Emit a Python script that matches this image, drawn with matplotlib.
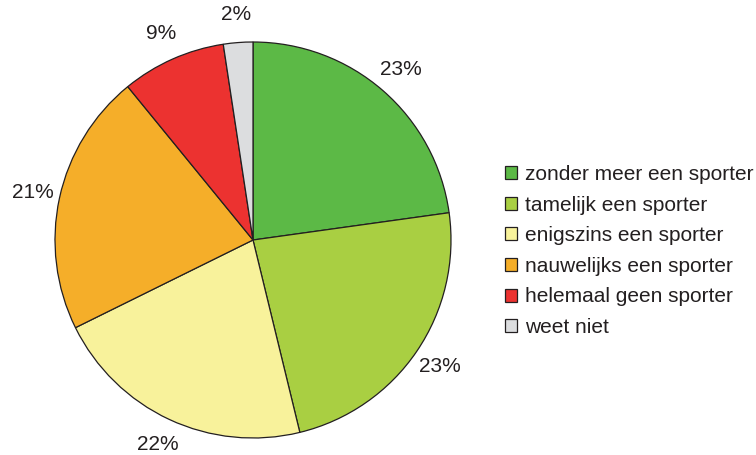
import matplotlib.pyplot as plt

plt.rcParams['font.family'] = ['Liberation Sans', 'DejaVu Sans']

categories = ["zonder meer een sporter", "tamelijk een sporter", "enigszins een sporter",
              "nauwelijks een sporter", "helemaal geen sporter", "weet niet"]
# shares; labels are the printed rounded values
values = [22.8, 23.4, 21.5, 21.4, 8.5, 2.4]
labels = ["23%", "23%", "22%", "21%", "9%", "2%"]
colors = ["#5cb946", "#a9cf42", "#f8f29b", "#f5ae29", "#ec3230", "#dcdddf"]

fig = plt.figure(figsize=(7.56, 4.55), dpi=100)
ax = fig.add_axes([(253 - 198) / 756, (455 - 240 - 198) / 455, 396 / 756, 396 / 455])

wedges, texts = ax.pie(values, colors=colors, startangle=90, counterclock=False,
                       labels=labels, labeldistance=1.14,
                       wedgeprops=dict(edgecolor="#231f20", linewidth=0.9),
                       textprops=dict(fontsize=15, color="#231f20"))
for t in texts:
    t.set_horizontalalignment("center")
    t.set_verticalalignment("center")
ax.set_xlim(-1, 1)
ax.set_ylim(-1, 1)
ax.set_aspect("equal")

leg = fig.legend(wedges, categories, loc="center left", bbox_to_anchor=(486 / 756, 1 - 251 / 455),
                 frameon=False, fontsize=15, handlelength=0.6, handleheight=0.6,
                 handletextpad=0.35, labelspacing=0.56, labelcolor="#231f20")

fig.savefig("out.png", dpi=100)
